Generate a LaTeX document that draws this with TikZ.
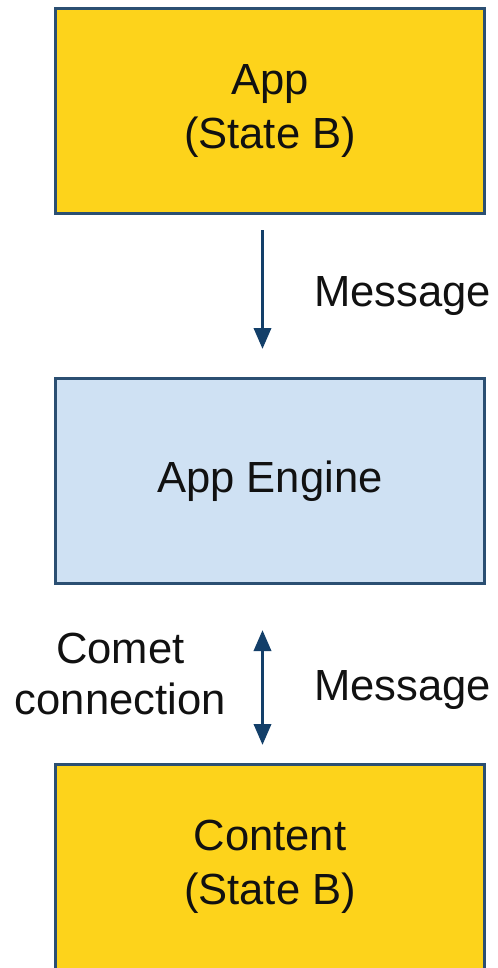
\documentclass[tikz,border=0pt]{standalone}
\usepackage{fontspec}
\setmainfont{Liberation Sans}
\usepackage{xcolor}
\definecolor{StateYellow}{HTML}{FDD31B}
\definecolor{EngineBlue}{HTML}{CFE1F3}
\definecolor{FrameNavy}{HTML}{2B4F72}
\definecolor{ArrowNavy}{HTML}{133F69}
\definecolor{LabelText}{HTML}{111111}
\usetikzlibrary{arrows.meta, positioning}

\begin{document}
\begin{tikzpicture}[
  % Grosser Kasten (App, Engine, Content)
  statebox/.style={
    draw=FrameNavy,
    line width=0.06cm,
    fill=#1,
    minimum width=8.58cm,
    minimum height=4.10cm,
    align=center,
    inner sep=0pt,
    text=LabelText,
    font=\fontsize{24.8}{30.5}\selectfont
  },
  statebox/.default=StateYellow,
  % Pfeil zwischen den Kaesten
  msgarrow/.style={
    draw=ArrowNavy,
    line width=0.07cm,
    -{Triangle[length=0.42cm, width=0.34cm]}
  },
  % Beschriftung neben Pfeil
  arrowlbl/.style={
    inner sep=0pt,
    align=center,
    text=LabelText,
    font=\fontsize{24.8}{29}\selectfont
  }
]

% =============================================================================
% HINTERGRUND
% =============================================================================
\useasboundingbox (0,0) rectangle (9.96,-19.36);
\clip (0,0) rectangle (9.96,-19.36);
\fill[white] (0,0) rectangle (9.96,-19.36);

% =============================================================================
% KAESTEN
% =============================================================================
\node[statebox] (app) at (5.40,-2.22) {App\\(State B)};
\node[statebox=EngineBlue, below=3.24cm of app] (engine) {App Engine};
\node[statebox, below=3.56cm of engine] (content) {Content\\(State B)};

% =============================================================================
% PFEILE
% =============================================================================
% App -> Engine
\draw[msgarrow, shorten <=0.30cm, shorten >=0.56cm]
  ([xshift=-0.15cm]app.south) -- ([xshift=-0.15cm]engine.north)
  node[arrowlbl, midway, anchor=west, xshift=1.0cm, yshift=0cm] (msgone) {Message};

% Engine <-> Content
\draw[msgarrow, {Triangle[length=0.42cm, width=0.34cm]}-{Triangle[length=0.42cm, width=0.34cm]},
      shorten <=0.90cm, shorten >=0.36cm]
  ([xshift=-0.15cm]engine.south) -- ([xshift=-0.15cm]content.north)
  node[arrowlbl, midway, anchor=west, xshift=1.0cm, yshift=-0.32cm] (msgtwo) {Message}
  node[arrowlbl, midway, anchor=east, xshift=-0.70cm, yshift=0.0cm] (comet) {Comet\\connection};

\end{tikzpicture}
\end{document}
